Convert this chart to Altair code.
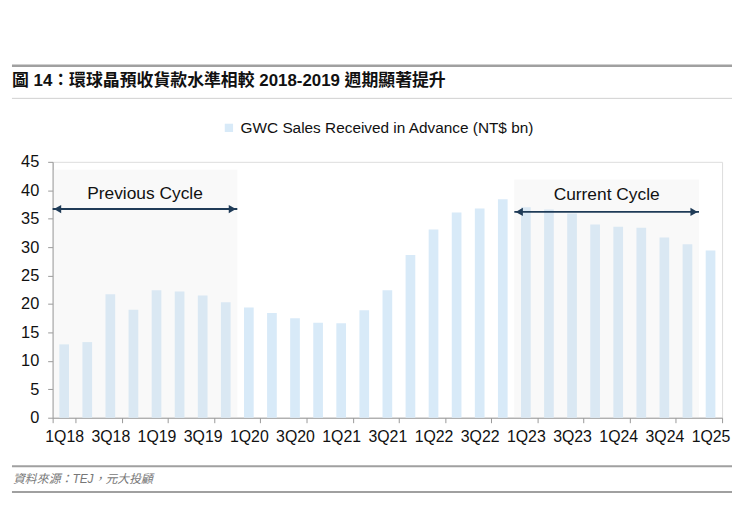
import altair as alt
import pandas as pd

quarters = ["1Q18", "2Q18", "3Q18", "4Q18", "1Q19", "2Q19", "3Q19", "4Q19",
            "1Q20", "2Q20", "3Q20", "4Q20", "1Q21", "2Q21", "3Q21", "4Q21",
            "1Q22", "2Q22", "3Q22", "4Q22", "1Q23", "2Q23", "3Q23", "4Q23",
            "1Q24", "2Q24", "3Q24", "4Q24", "1Q25"]
values = [12.9, 13.3, 21.7, 19.0, 22.4, 22.2, 21.5, 20.3,
          19.4, 18.4, 17.5, 16.7, 16.6, 18.9, 22.4, 28.6,
          33.1, 36.1, 36.8, 38.4, 37.0, 36.6, 35.9, 34.0,
          33.6, 33.4, 31.7, 30.5, 29.4]
tick_labels = ["1Q18", "3Q18", "1Q19", "3Q19", "1Q20", "3Q20", "1Q21", "3Q21",
               "1Q22", "3Q22", "1Q23", "3Q23", "1Q24", "3Q24", "1Q25"]
y_ticks = [0, 5, 10, 15, 20, 25, 30, 35, 40, 45]
series_name = "GWC Sales Received in Advance (NT$ bn)"

cycle_names = ["Previous Cycle", "Current Cycle"]
cycle_start = ["1Q18", "1Q23"]
cycle_end = ["4Q19", "4Q24"]
cycle_top = [43.6, 41.9]
cycle_arrow_y = [36.7, 36.2]
cycle_label_at = ["1Q19", "1Q24"]
cycle_label_y = [39.4, 39.2]

title_text = "圖 14：環球晶預收貨款水準相較 2018-2019 週期顯著提升"
source_text = "資料來源：TEJ，元大投顧"

FONT = "Liberation Sans, Noto Sans CJK TC"

df = pd.DataFrame({"quarter": quarters, "value": values, "series": series_name})
cyc = pd.DataFrame({"name": cycle_names, "start": cycle_start, "end": cycle_end,
                    "top": cycle_top, "ay": cycle_arrow_y,
                    "lab": cycle_label_at, "ly": cycle_label_y})

xscale = alt.Scale(domain=quarters, paddingInner=0, paddingOuter=0)
yscale = alt.Scale(domain=[0, 45], nice=False)
xaxis = alt.Axis(values=tick_labels, labelAngle=0, tickBand="extent",
                 labelFontSize=16, labelColor="#111", labelFont=FONT,
                 domainColor="#999", tickColor="#999", tickSize=5,
                 labelPadding=6, labelOverlap=False, title=None)
yaxis = alt.Axis(values=y_ticks, grid=False, tickCount=10,
                 labelFontSize=16.5, labelColor="#111", labelFont=FONT,
                 domainColor="#999", tickColor="#999", tickSize=5,
                 labelPadding=9, labelOverlap=False, title=None)


def X(field, bp=None):
    if bp is None:
        return alt.X(field, sort=quarters, scale=xscale, axis=xaxis)
    return alt.X(field, sort=quarters, scale=xscale, axis=xaxis, bandPosition=bp)


def Y(field):
    return alt.Y(field, scale=yscale, axis=yaxis)


bars = alt.Chart(df).mark_bar(width=alt.RelativeBandSize(0.42)).encode(
    x=X("quarter:N"),
    y=Y("value:Q"),
    color=alt.Color("series:N", scale=alt.Scale(range=["#d8eaf8"]),
                    legend=alt.Legend(orient="none", legendX=170, legendY=-42,
                                      title=None, symbolType="square",
                                      symbolSize=70, symbolStrokeWidth=0,
                                      labelFontSize=15.5, labelColor="#111",
                                      labelFont=FONT, labelLimit=0)),
)

shade = alt.Chart(cyc).mark_rect(color="#e4e4e4", opacity=0.22).encode(
    x=X("start:N", 0),
    x2=alt.X2("end:N", bandPosition=1),
    y=Y("top:Q"),
    y2=alt.datum(0),
)

arrow_line = alt.Chart(cyc).mark_rule(color="#1f3b57", strokeWidth=2).encode(
    x=X("start:N", 0),
    x2=alt.X2("end:N", bandPosition=1),
    y=Y("ay:Q"),
)
arrow_l = alt.Chart(cyc).mark_point(shape="triangle-left", filled=True, size=70,
                                    color="#1f3b57", opacity=1, xOffset=5).encode(
    x=X("start:N", 0),
    y=Y("ay:Q"),
)
arrow_r = alt.Chart(cyc).mark_point(shape="triangle-right", filled=True, size=70,
                                    color="#1f3b57", opacity=1, xOffset=-5).encode(
    x=X("end:N", 1),
    y=Y("ay:Q"),
)
labels = alt.Chart(cyc).mark_text(fontSize=17.5, color="#111", font=FONT).encode(
    x=X("lab:N", 0),
    y=Y("ly:Q"),
    text="name:N",
)

one = pd.DataFrame({"t": [title_text], "s": [source_text]})
title = alt.Chart(one).mark_text(align="left", baseline="middle", fontSize=17,
                                 fontWeight="bold", color="#111", font=FONT).encode(
    x=alt.value(-41), y=alt.value(-81), text="t:N")
source = alt.Chart(one).mark_text(align="left", baseline="middle", fontSize=12,
                                  fontStyle="italic", color="#777", font=FONT).encode(
    x=alt.value(-40), y=alt.value(320), text="s:N")


def hline(y, color, w):
    return alt.Chart(one).mark_rule(color=color, strokeWidth=w).encode(
        x=alt.value(-41), x2=alt.value(685), y=alt.value(y))


lines = [hline(-97, "#a0a0a0", 2.5), hline(-64, "#d0d0d0", 1),
         hline(307, "#a0a0a0", 2), hline(333, "#a0a0a0", 2)]

chart = alt.layer(bars, shade, arrow_line, arrow_l, arrow_r, labels, title, source,
                  *lines).properties(
    width=675, height=258,
    autosize=alt.AutoSizeParams(type="none"),
    padding={"left": 45, "top": 153, "right": 10, "bottom": 99},
).configure_view(stroke=None).configure(background="white")

chart.save("out.html", embed_options={"renderer": "svg", "actions": False})
